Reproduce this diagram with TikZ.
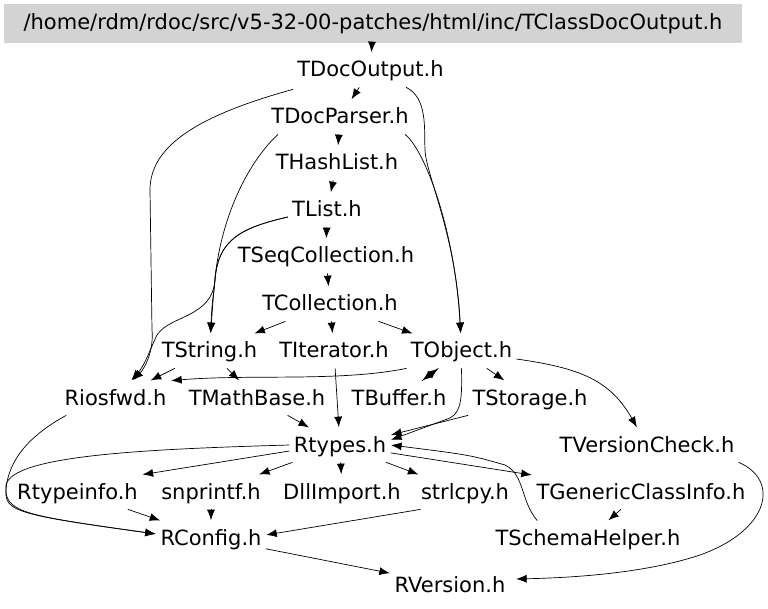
\documentclass[tikz,border=0pt]{standalone}
\usepackage{fontspec}
\setmainfont{DejaVu Sans}
\usetikzlibrary{arrows.meta}
\definecolor{rootgray}{HTML}{D3D3D3}

\begin{document}
\begin{tikzpicture}[x=1pt, y=-1pt, shorten >=0.5pt, line width=0.7pt, >={Latex[length=10.5pt,width=8pt]},
    every node/.style={font=\fontsize{21pt}{25pt}\selectfont}]
		\tikzstyle{file}=[anchor=base, inner xsep=4pt, inner ysep=7pt, text height=17pt, text depth=3pt]
		\tikzstyle{rootfile}=[fill=rootgray, minimum width=738pt, minimum height=39pt, inner sep=0pt]

		\useasboundingbox (0,0) rectangle (768,609);

    % Documented file
		\node[rootfile](root) at (373,23.5){/home/rdm/rdoc/src/v5-32-00-patches/html/inc/TClassDocOutput.h};

    % html headers
		\node[file](tdocoutput) at (370.5,77){TDocOutput.h};
		\node[file](tdocparser) at (340,124){TDocParser.h};

    % Containers
		\node[file](thashlist) at (337,170){THashList.h};
		\node[file](tlist) at (327,217){TList.h};
		\node[file](tseqcollection) at (326,263){TSeqCollection.h};
		\node[file](tcollection) at (330,311){TCollection.h};

    % Core classes
		\node[file](tstring) at (209.5,358){TString.h};
		\node[file](titerator) at (334,358){TIterator.h};
		\node[file](tobject) at (461.5,358){TObject.h};
		\node[file](riosfwd) at (115.5,405){Riosfwd.h};
		\node[file](tmathbase) at (257,405){TMathBase.h};
		\node[file](tbuffer) at (399,405){TBuffer.h};
		\node[file](tstorage) at (530,405){TStorage.h};
		\node[file](rtypes) at (340,452){Rtypes.h};
		\node[file](tversioncheck) at (647,452){TVersionCheck.h};

    % Base headers
		\node[file](rtypeinfo) at (77.5,499){Rtypeinfo.h};
		\node[file](snprintf) at (211,499){snprintf.h};
		\node[file](dllimport) at (342,499){DllImport.h};
		\node[file](strlcpy) at (465,499){strlcpy.h};
		\node[file](tgenericclassinfo) at (641,499){TGenericClassInfo.h};
		\node[file](rconfig) at (211,545){RConfig.h};
		\node[file](tschemahelper) at (588,545){TSchemaHelper.h};
		\node[file](rversion) at (450,592){RVersion.h};

		\draw[->] (root) -- (tdocoutput);
		\draw[->] (tdocoutput) -- (tdocparser);
		\draw[->] ([yshift=-2pt]tdocoutput.south west) .. controls (200,115) and (150,145) .. (150,190) -- (152,330) .. controls (154,350) and (145,368) .. (riosfwd);
		\draw[->] (tdocoutput) .. controls (428,98) and (424,130) .. (425,150) .. controls (426,175) and (456,235) .. (tobject);

		\draw[->] (tdocparser) -- (thashlist);
		\draw[->] ([xshift=-8pt]tdocparser.south east) .. controls (425,150) and (455,230) .. (tobject);
		\draw[->] ([xshift=11pt]tdocparser.south west) .. controls (245,165) and (218,225) .. (214,290) .. controls (212,305) .. (tstring);

		\draw[->] (thashlist) -- (tlist);
		\draw[->] (tlist) -- (tseqcollection);
		\draw[->] ([yshift=-7pt]tlist.west) .. controls (240,228) and (218,240) .. (215,280) .. controls (213,300) .. (tstring);
		\draw[->] ([yshift=-7pt]tlist.west) .. controls (240,228) and (218,240) .. (215,280) .. controls (212,318) and (170,315) .. (157,335) .. controls (152,345) and (145,365) .. (riosfwd);

		\draw[->] (tseqcollection) -- (tcollection);
		\draw[->] (tcollection) -- (tstring);
		\draw[->] (tcollection) -- (titerator);
		\draw[->] (tcollection) -- (tobject);

		\draw[->] (tstring) -- (riosfwd);
		\draw[->] (tstring) -- (tmathbase);
		\draw[->] (titerator) -- (rtypes);

		\draw[->] (tobject.south west) .. controls (340,382) and (250,374) .. (riosfwd.north east);
		\draw[->] (tobject) -- (tbuffer);
		\draw[->] (tbuffer) -- (tobject);
		\draw[->] (tobject) -- (tstorage);
		\draw[->] ([yshift=-8pt]tobject.east) .. controls (580,368) and (610,380) .. (tversioncheck);
		\draw[->] (tobject.south) .. controls (462,395) and (462,412) .. (450,418) -- ([yshift=5pt]rtypes.east);

		\draw[->] (tstorage.south west) -- ([yshift=10pt]rtypes.east);
		\draw[->] (tmathbase) -- (rtypes);

		\draw[->] ([xshift=6pt]riosfwd.south west) .. controls (30,435) and (8,460) .. (6,490) .. controls (4,512) and (20,515) .. ([yshift=4pt]rconfig.west);
		\draw[->] (rtypes.west) .. controls (150,449) and (12,455) .. (6,485) .. controls (4,512) and (20,515) .. ([yshift=4pt]rconfig.west);
		\draw[->] ([yshift=-6pt]rtypes.west) -- (rtypeinfo.north east);
		\draw[->] (rtypes) -- (snprintf);
		\draw[->] (rtypes) -- (dllimport);
		\draw[->] (rtypes) -- (strlcpy);
		\draw[->] (rtypes) -- (tgenericclassinfo);

		\draw[->] ([xshift=46pt]tschemahelper.north west) .. controls (520,500) and (525,475) .. (505,465) .. controls (470,455) .. (rtypes.east);
		\draw[->] (tgenericclassinfo) -- (tschemahelper);

		\draw[->] (rtypeinfo) -- (rconfig);
		\draw[->] (snprintf) -- (rconfig);
		\draw[->] ([xshift=4pt]strlcpy.south west) -- ([yshift=3pt]rconfig.east);
		\draw[->] (rconfig) -- (rversion);
		\draw[->] (tversioncheck.south east) .. controls (780,480) and (770,530) .. (700,555) .. controls (640,575) and (560,578) .. ([xshift=6pt,yshift=6pt]rversion.east);
  \end{tikzpicture}
\end{document}
